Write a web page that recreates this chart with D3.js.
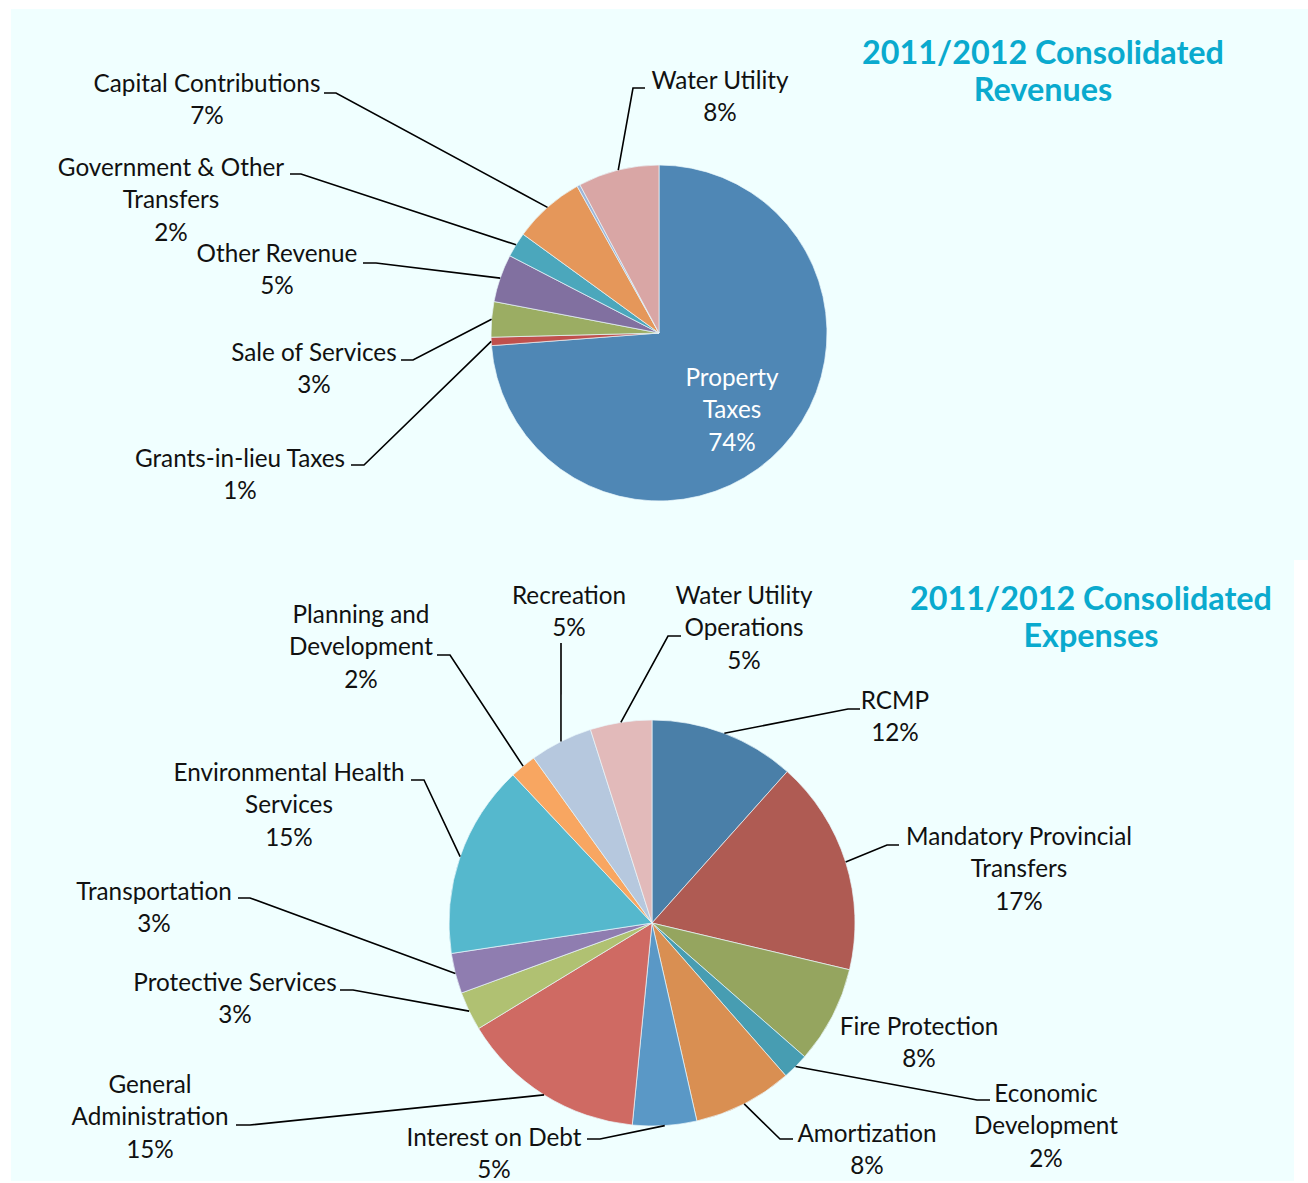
<!DOCTYPE html>
<html>
<head>
<meta charset="utf-8">
<script src="https://cdn.jsdelivr.net/npm/d3@7"></script>
<style>
  html, body { margin: 0; padding: 0; background: #ffffff; }
  svg { display: block; }
</style>
</head>
<body>
<svg id="chart" width="1308" height="1183"></svg>
<script>
// ---------------- DATA ----------------
const revTitle = ["2011/2012 Consolidated", "Revenues"];
const revCategories = ["Property\nTaxes", "Grants-in-lieu Taxes", "Sale of Services", "Other Revenue",
  "Government & Other\nTransfers", "Capital Contributions", "", "Water Utility"];
const revValues = [73.8, 0.8, 3.4, 4.6, 2.4, 6.9, 0.3, 7.8];
const revColors = ["#4F87B5", "#C0504D", "#9BAD63", "#8170A0", "#4BA7BC", "#E5975A", "#9DB5D8", "#D9A6A5"];

const expTitle = ["2011/2012 Consolidated", "Expenses"];
const expCategories = ["RCMP", "Mandatory Provincial\nTransfers", "Fire Protection", "Economic\nDevelopment",
  "Amortization", "Interest on Debt", "General\nAdministration", "Protective Services", "Transportation",
  "Environmental Health\nServices", "Planning and\nDevelopment", "Recreation", "Water Utility\nOperations"];
const expValues = [11.6, 17.1, 7.75, 2.1, 7.9, 5.1, 14.75, 3.1, 3.2, 15.4, 2.1, 5.0, 4.9];
const expColors = ["#4A7FA8", "#AF5B53", "#95A55F", "#479DB2", "#D98F52", "#5A98C6", "#CF6A63",
  "#B0C172", "#8F7DB0", "#55B8CD", "#F8A661", "#B6C8DE", "#E2BABA"];

// ---------------- LAYOUT (positions only) ----------------
const revLayout = [
  {x: 732, y: 377, inside: true},
  {x: 240, y: 458, sx: 351, ex: 364, ey: 465},
  {x: 314, y: 352, sx: 401, ex: 413, ey: 360},
  {x: 277, y: 253, sx: 363, ex: 376, ey: 263},
  {x: 171, y: 167, sx: 290, ex: 301, ey: 174},
  {x: 207, y: 83,  sx: 324, ex: 336, ey: 93},
  null,
  {x: 720, y: 80,  sx: 645, ex: 633, ey: 88}
];
const expLayout = [
  {x: 895, y: 700, sx: 860, ex: 848, ey: 709},
  {x: 1019, y: 836, sx: 899, ex: 887, ey: 845},
  {x: 919, y: 1026},
  {x: 1046, y: 1093, sx: 990, ex: 977, ey: 1100},
  {x: 867, y: 1133, sx: 793, ex: 780, ey: 1139},
  {x: 494, y: 1137, sx: 587, ex: 600, ey: 1139},
  {x: 150, y: 1084, sx: 236, ex: 250, ey: 1125},
  {x: 235, y: 982, sx: 340, ex: 353, ey: 990},
  {x: 154, y: 891, sx: 238, ex: 250, ey: 898},
  {x: 289, y: 772, sx: 411, ex: 424, ey: 780},
  {x: 361, y: 614, sx: 437, ex: 450, ey: 655},
  {x: 569, y: 595, sx: 561, ex: 561, ey: 643},
  {x: 744, y: 595, sx: 681, ex: 668, ey: 636}
];

const LABEL_FONT = "Lato, 'Open Sans', sans-serif";
const TITLE_FONT = "Lato, 'Open Sans', sans-serif";
const LINE_H = 32.5;

const svg = d3.select("#chart");

function fitSize(text, family, weight, target) {
  const t = svg.append("text").attr("font-family", family).attr("font-weight", weight)
    .attr("font-size", 100).text(text);
  const w = t.node().getComputedTextLength();
  t.remove();
  return 100 * target / w;
}
const labelSize = fitSize("Capital Contributions", LABEL_FONT, 400, 227);
const titleSize = fitSize("2011/2012 Consolidated", TITLE_FONT, 700, 362);

svg.append("path")
  .attr("d", "M11,9 H1308 V560 H1294 V1181 H11 Z")
  .attr("fill", "#F0FFFF");

function drawPie(cfg) {
  const g = svg.append("g");
  const pie = d3.pie().sort(null).value(d => d.value).startAngle(0).endAngle(2 * Math.PI);
  const total = d3.sum(cfg.values);
  const data = cfg.values.map((v, i) => ({value: v, name: cfg.categories[i], color: cfg.colors[i], lay: cfg.layout[i]}));
  const arcs = pie(data);
  const arc = d3.arc().innerRadius(0).outerRadius(cfg.r);

  g.append("g").attr("transform", `translate(${cfg.cx},${cfg.cy})`)
    .selectAll("path").data(arcs).join("path")
    .attr("d", arc)
    .attr("fill", d => d.data.color)
    .attr("stroke", "#EAF6FA")
    .attr("stroke-width", 0.7);

  arcs.forEach(a => {
    const lay = a.data.lay;
    if (!lay) return;
    const pct = Math.round(a.data.value / total * 100 + 1e-9) + "%";
    const lines = a.data.name.split("\n").concat([pct]);
    if (lay.ex !== undefined) {
      const mid = (a.startAngle + a.endAngle) / 2;
      const px = cfg.cx + cfg.r * Math.sin(mid);
      const py = cfg.cy - cfg.r * Math.cos(mid);
      g.append("path")
        .attr("d", d3.line()([[lay.sx, lay.ey], [lay.ex, lay.ey], [px, py]]))
        .attr("fill", "none").attr("stroke", "#000").attr("stroke-width", 1.6);
    }
    const t = g.append("text")
      .attr("font-family", LABEL_FONT)
      .attr("font-size", labelSize)
      .attr("fill", lay.inside ? "#ffffff" : "#111111")
      .attr("text-anchor", "middle");
    lines.forEach((ln, j) => {
      t.append("tspan").attr("x", lay.x).attr("y", lay.y - 1 + j * LINE_H)
        .attr("dominant-baseline", "central").text(ln);
    });
  });

  const tt = svg.append("text")
    .attr("font-family", TITLE_FONT).attr("font-weight", 700)
    .attr("font-size", titleSize).attr("fill", "#0AAACE")
    .attr("text-anchor", "middle");
  cfg.title.forEach((ln, j) => {
    tt.append("tspan").attr("x", cfg.tx).attr("y", cfg.ty - 1 + j * 37)
      .attr("dominant-baseline", "central").text(ln);
  });
}

drawPie({cx: 659, cy: 333, r: 168, values: revValues, categories: revCategories, colors: revColors,
  layout: revLayout, title: revTitle, tx: 1043, ty: 52});
drawPie({cx: 652, cy: 923, r: 203, values: expValues, categories: expCategories, colors: expColors,
  layout: expLayout, title: expTitle, tx: 1091, ty: 598});
</script>
</body>
</html>
